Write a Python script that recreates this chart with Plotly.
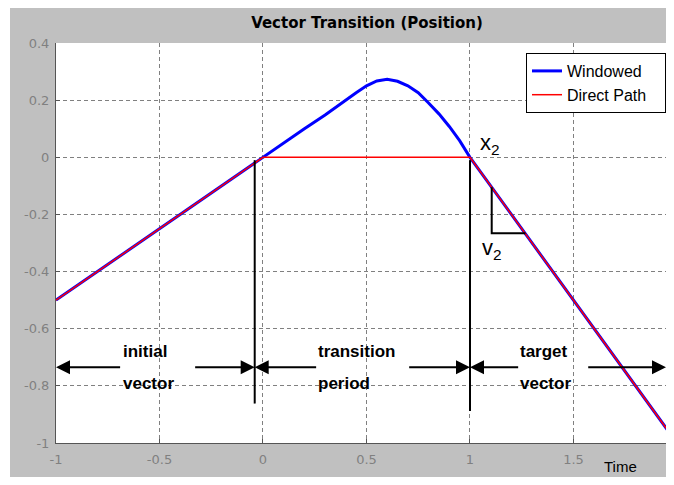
import plotly.graph_objects as go

# position vs time
time_windowed = [-1.0, 0.0, 0.1, 0.2, 0.3, 0.4, 0.45, 0.5, 0.55, 0.6, 0.65,
                 0.7, 0.75, 0.8, 0.85, 0.9, 0.95, 1.0, 2.0]
pos_windowed = [-0.5, 0.0, 0.053, 0.1, 0.148, 0.202, 0.226, 0.25, 0.267, 0.273, 0.266,
                0.25, 0.226, 0.19, 0.152, 0.108, 0.058, 0.0, -1.0]
time_direct = [-1.0, 0.0, 1.0, 2.0]
pos_direct = [-0.5, 0.0, 0.0, -1.0]

x_ticks = [-1, -0.5, 0, 0.5, 1, 1.5, 2]
x_tick_labels = ['-1', '-0.5', '0', '0.5', '1', '1.5', '2']
y_ticks = [0.4, 0.2, 0, -0.2, -0.4, -0.6, -0.8, -1]
y_tick_labels = ['0.4', '0.2', '0', '-0.2', '-0.4', '-0.6', '-0.8', '-1']

# start / end of the transition period
t_start, t_end = -0.04, 1.0

# the original picture is cropped just before t = 2
x_max = 1.947

GRAY = '#c0c0c0'
LABEL_FONT = dict(family='Liberation Sans, Arial, sans-serif', size=17, color='black', weight='bold')

fig = go.Figure()

fig.add_trace(go.Scatter(
    x=time_windowed, y=pos_windowed, mode='lines', name='Windowed',
    line=dict(color='#0000ff', width=3)
))
fig.add_trace(go.Scatter(
    x=time_direct, y=pos_direct, mode='lines', name='Direct Path\u00a0\u00a0\u00a0',
    line=dict(color='#ff0000', width=1.5)
))

# boundary markers of the transition period
fig.add_shape(type='line', x0=t_start, x1=t_start, y0=-0.01, y1=-0.862,
              line=dict(color='black', width=2))
fig.add_shape(type='line', x0=t_end, x1=t_end, y0=-0.01, y1=-0.888,
              line=dict(color='black', width=2))

# slope triangle for v2
fig.add_shape(type='path', path='M 1.105,-0.105 L 1.105,-0.266 L 1.268,-0.266',
              line=dict(color='black', width=2))

# thin white strip on the left of the grey figure area
fig.add_shape(type='rect', xref='paper', yref='paper', x0=-0.2, x1=-0.0754, y0=-0.3, y1=1.3,
              fillcolor='white', line=dict(width=0), layer='below')

# arrows (tail, head)
arrow_y = -0.735
arrows = [(-0.683, -1.0), (-0.335, t_start), (0.264, t_start),
          (0.699, t_end), (1.24, t_end), (1.564, x_max)]
for tail, head in arrows:
    fig.add_annotation(x=head, y=arrow_y, ax=tail, ay=arrow_y, axref='x', ayref='y',
                       text='', showarrow=True, arrowhead=2, arrowsize=1.4,
                       arrowwidth=2, arrowcolor='black')

labels = [
    (-0.688, 'initial', 'vector'),
    (0.258, 'transition', 'period'),
    (1.234, 'target', 'vector'),
]
for x, top, bottom in labels:
    fig.add_annotation(x=x, y=-0.68, text=top, showarrow=False, xanchor='left',
                       yanchor='middle', font=LABEL_FONT)
    fig.add_annotation(x=x, y=-0.792, text=bottom, showarrow=False, xanchor='left',
                       yanchor='middle', font=LABEL_FONT)

fig.add_annotation(x=1.04, y=0.045, text='x<sub>2</sub>', showarrow=False, xanchor='left',
                   yanchor='middle', font=dict(family='Liberation Sans, Arial', size=22, color='black'))
fig.add_annotation(x=1.05, y=-0.32, text='v<sub>2</sub>', showarrow=False, xanchor='left',
                   yanchor='middle', font=dict(family='Liberation Sans, Arial', size=22, color='black'))

fig.add_annotation(x=0.9246, y=-0.085, xref='paper', yref='paper', text='Time',
                   showarrow=False, xanchor='center', yanchor='bottom',
                   font=dict(family='Liberation Sans, Arial', size=15, color='black'))

axis_common = dict(
    showgrid=True, gridcolor='#808080', griddash='4px,3px', gridwidth=1,
    zeroline=False, showline=True, linecolor='#555555', linewidth=1,
    ticks='inside', ticklen=4, tickcolor='#555555',
    tickfont=dict(family='DejaVu Sans', size=13, color='#808080'),
)

fig.update_layout(
    width=658, height=469,
    margin=dict(l=48, r=0, t=35, b=34, autoexpand=False),
    paper_bgcolor=GRAY, plot_bgcolor='white',
    title=dict(text='<b>Vector Transition (Position)</b>', x=(359 - 48) / 610, xref='paper',
               xanchor='center', y=1 - 15 / 469, yref='container', yanchor='middle',
               font=dict(family='DejaVu Sans', size=15, color='black')),
    xaxis=dict(range=[-1, x_max], tickvals=x_ticks, ticktext=x_tick_labels,
               ticklabelstandoff=4, **axis_common),
    yaxis=dict(range=[-1, 0.4], tickvals=y_ticks, ticktext=y_tick_labels,
               ticklabelstandoff=3, **axis_common),
    legend=dict(x=1.0, y=0.975, xanchor='right', yanchor='top',
                bgcolor='white', bordercolor='black', borderwidth=1,
                font=dict(family='Liberation Sans, Arial', size=16, color='black'),
                tracegroupgap=0),
    showlegend=True,
)

fig.write_html("out.html")
